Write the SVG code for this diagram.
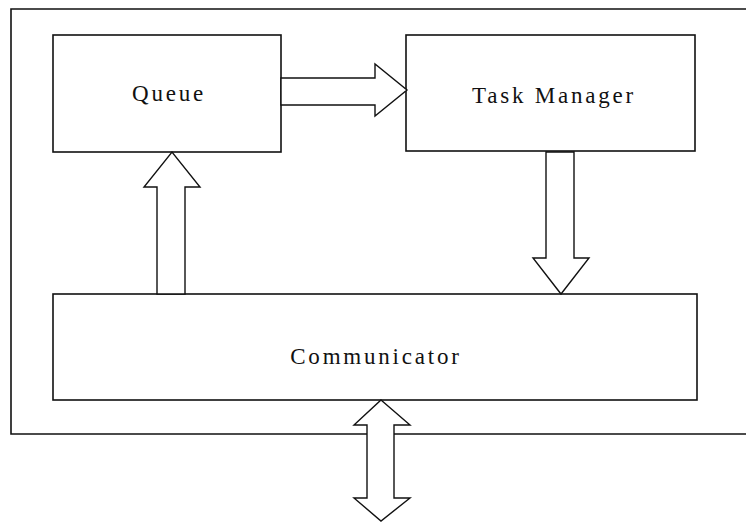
<svg xmlns="http://www.w3.org/2000/svg" width="746" height="522" viewBox="0 0 746 522">
<style>
.box{fill:#fff;stroke:#111;stroke-width:1.6}
.arr{fill:#fff;stroke:#111;stroke-width:1.4;stroke-linejoin:miter}
.lbl{font-family:"Liberation Serif","Times New Roman",serif;font-size:23px;letter-spacing:2.8px;fill:#111;text-anchor:middle}
</style>
<rect width="746" height="522" fill="#fff"/>
<g id="system">
<polyline class="box" points="750,9 11,9 11,434 750,434" fill="none"/>
</g>
<g id="queue">
<rect class="box" x="53" y="35" width="228" height="117"/>
<text class="lbl" x="169" y="101">Queue</text>
</g>
<g id="task-manager">
<rect class="box" x="406" y="35" width="289" height="116"/>
<text class="lbl" x="554" y="103">Task Manager</text>
</g>
<g id="communicator">
<rect class="box" x="53" y="294" width="644" height="106"/>
<text class="lbl" x="376" y="364">Communicator</text>
</g>
<g id="connectors">
<polygon class="arr" points="281,78 375,78 375,64 407,90 375,116 375,105 281,105"/>
<polygon class="arr" points="546,152 574,152 574,258 589,258 561,294 533,258 546,258"/>
<polygon class="arr" points="157,294 157,187 144,187 172,152 200,187 185,187 185,294"/>
<polygon class="arr" points="381,400 410,425 394,425 394,498 410,498 381,521 354,498 367,498 367,425 354,425"/>
</g>
</svg>
